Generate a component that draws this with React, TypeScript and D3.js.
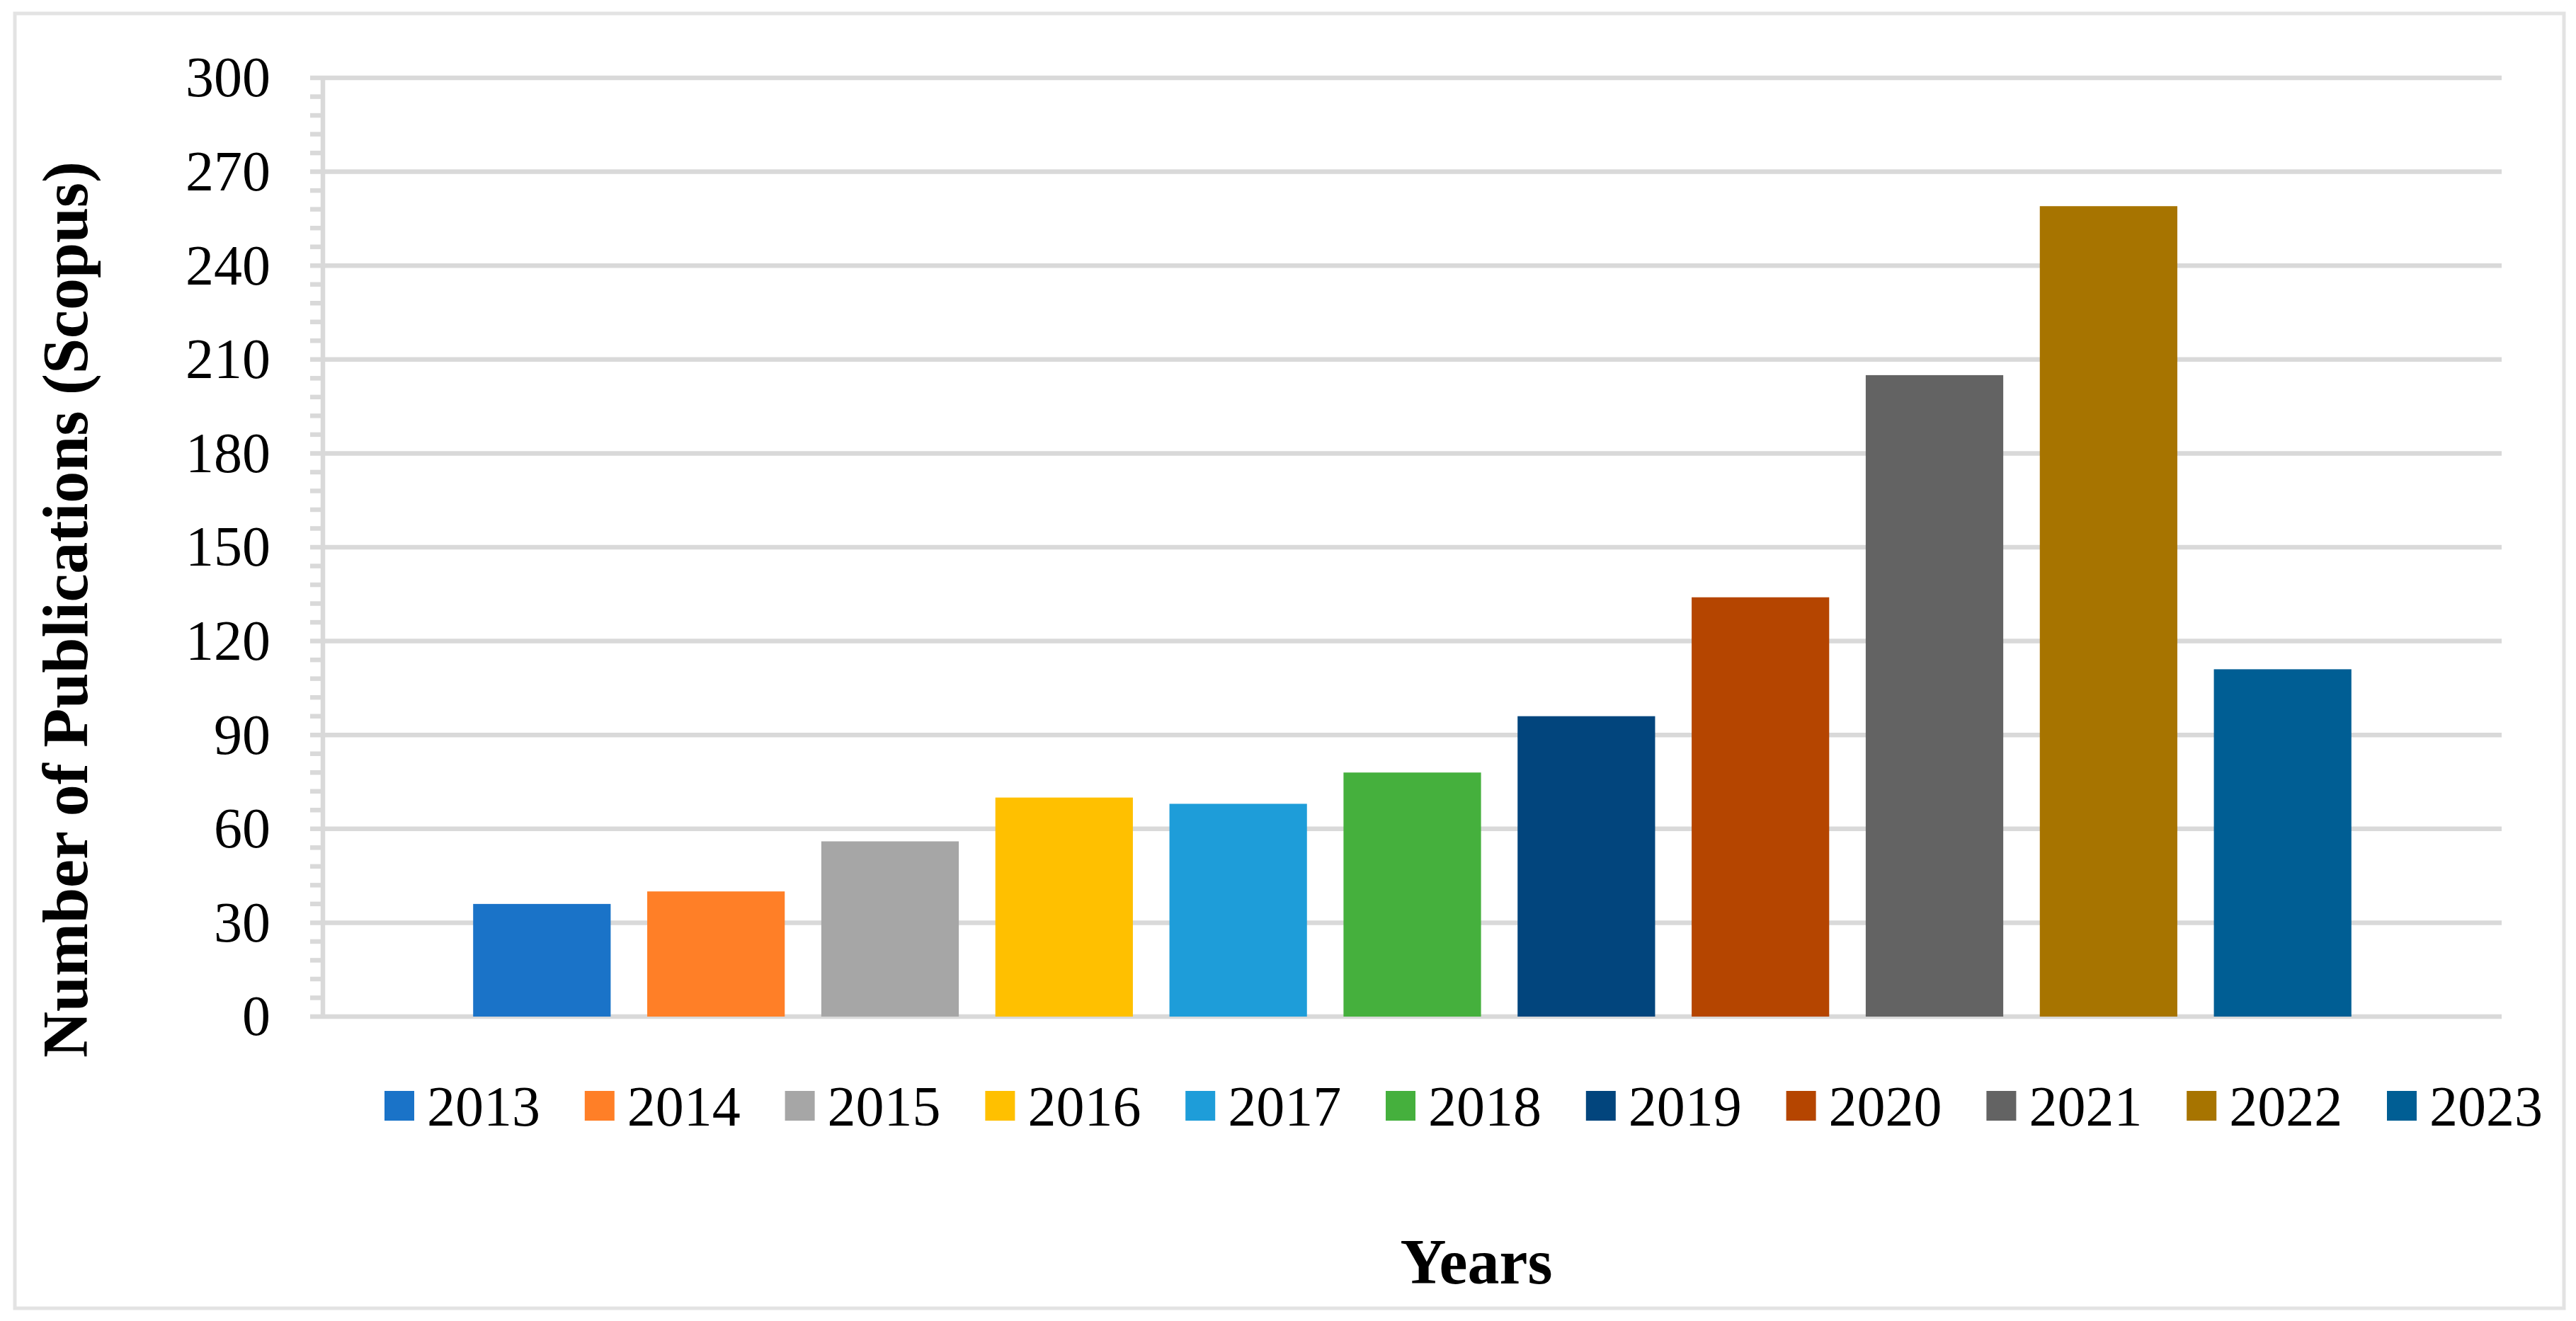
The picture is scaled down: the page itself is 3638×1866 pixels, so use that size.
import React, { FC, useMemo } from 'react'
import * as d3 from 'd3'

const years = ['2013', '2014', '2015', '2016', '2017', '2018', '2019', '2020', '2021', '2022', '2023']
const publications = [36, 40, 56, 70, 68, 78, 96, 134, 205, 259, 111]
const barColors = [
	'#1a73c8',
	'#ff7f27',
	'#a6a6a6',
	'#ffc000',
	'#1e9dd9',
	'#45b03d',
	'#02457d',
	'#b54500',
	'#636363',
	'#a77400',
	'#005e94'
]
const yTickValues = [0, 30, 60, 90, 120, 150, 180, 210, 240, 270, 300]
const category = 'Scopus'

const W = 3638
const H = 1866
const FONT = '"Liberation Serif", "Times New Roman", serif'

const App: FC = () => {
	const plot = { left: 456, right: 3533, top: 110, bottom: 1436 }

	const y = useMemo(() => {
		return d3.scaleLinear().domain([0, 300]).range([plot.bottom, plot.top])
	}, [])

	const x0 = useMemo(() => {
		return d3
			.scaleBand()
			.domain([category])
			.range([plot.left, plot.right])
			.paddingInner(0)
			.paddingOuter(0.08)
	}, [])

	const x1 = useMemo(() => {
		return d3
			.scaleBand()
			.domain(years)
			.range([0, x0.bandwidth()])
			.paddingInner(0.21)
	}, [x0])

	// 4 minor ticks between every major one (step 6)
	const minorTicks = useMemo(() => d3.range(0, 300, 6).filter(t => t % 30 !== 0), [])

	const legendStart = 543
	const legendStep = 282.8

	return (
		<svg
			width={W}
			height={H}
			style={{ position: 'absolute', left: 0, top: 0, background: '#fff' }}
			fontFamily={FONT}
		>
			<rect x={0} y={0} width={W} height={H} fill="#fff" />
			{/* chart border */}
			<rect
				x={21}
				y={19}
				width={3600}
				height={1829}
				fill="#fff"
				stroke="#e3e3e3"
				strokeWidth={5}
			/>

			{/* grid + ticks */}
			<g stroke="#d9d9d9" strokeWidth={6.5}>
				{yTickValues.map(t => (
					<line key={t} x1={plot.left - 18} x2={plot.right} y1={y(t)} y2={y(t)} />
				))}
				{minorTicks.map(t => (
					<line key={'m' + t} x1={plot.left - 18} x2={plot.left} y1={y(t)} y2={y(t)} />
				))}
				<line x1={plot.left} x2={plot.left} y1={y(300) - 3} y2={y(0) + 3} />
			</g>

			{/* bars */}
			<g transform={`translate(${x0(category)}, 0)`}>
				{publications.map((d, i) => (
					<rect
						key={years[i]}
						x={x1(years[i])}
						y={y(d)}
						width={x1.bandwidth()}
						height={y(0) - y(d)}
						fill={barColors[i]}
					/>
				))}
			</g>

			{/* y tick labels */}
			<g fontSize={80} textAnchor="end" fill="#000">
				{yTickValues.map(t => (
					<text key={t} x={382} y={y(t)} dy="0.33em">
						{t}
					</text>
				))}
			</g>

			{/* y title */}
			<text
				transform="translate(123, 861) rotate(-90)"
				textAnchor="middle"
				fontSize={90}
				fontWeight="bold"
			>
				Number of Publications (Scopus)
			</text>

			{/* legend */}
			<g fontSize={80}>
				{years.map((yr, i) => {
					const lx = legendStart + i * legendStep
					return (
						<g key={yr} transform={`translate(${lx}, 1541)`}>
							<rect width={42} height={42} fill={barColors[i]} />
							<text x={60} y={21} dy="0.35em">
								{yr}
							</text>
						</g>
					)
				})}
			</g>

			{/* x title */}
			<text x={2085} y={1813} textAnchor="middle" fontSize={90} fontWeight="bold">
				Years
			</text>
		</svg>
	)
}

export default App
